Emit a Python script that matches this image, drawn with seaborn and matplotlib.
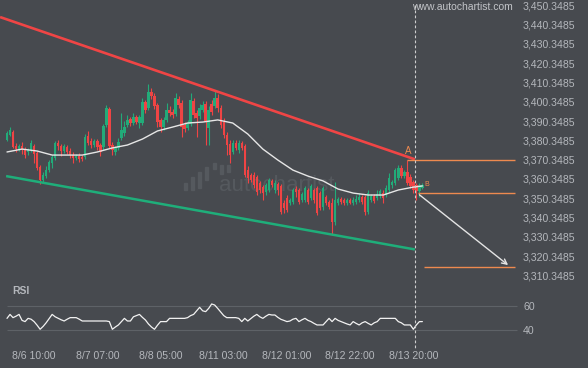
import numpy as np
import pandas as pd
import seaborn as sns
import matplotlib.pyplot as plt
from matplotlib import transforms
from matplotlib.patches import Rectangle

# ---- data: hourly candles 8/6 - 8/13 ----
opens = [
    3380.5, 3383.1, 3384.6, 3377.4, 3375.3, 3377.4, 3375.8, 3374.3, 3375.3, 3377.4,
    3373.8, 3366.5, 3359.8, 3361.8, 3364.9, 3368.6, 3371.2, 3378.9, 3377.4, 3374.8,
    3376.9, 3374.8, 3372.7, 3371.2, 3372.2, 3371.7, 3371.7, 3382.6, 3380.0, 3377.9,
    3380.0, 3377.9, 3376.9, 3388.3, 3396.6, 3377.9, 3374.3, 3376.4, 3381.5, 3384.1,
    3388.3, 3391.4, 3389.3, 3392.4, 3389.3, 3389.3, 3400.2, 3397.1, 3405.4, 3403.3,
    3398.6, 3390.9, 3387.2, 3390.9, 3396.0, 3395.0, 3394.0, 3401.7, 3399.7, 3388.3,
    3386.7, 3388.8, 3400.7, 3394.5, 3392.9, 3396.0, 3399.2, 3386.7, 3399.2, 3398.1,
    3402.3, 3397.1, 3389.8, 3383.1, 3378.4, 3374.3, 3378.9, 3375.3, 3378.9, 3377.4,
    3364.9, 3362.4, 3362.4, 3361.3, 3358.2, 3356.1, 3353.6, 3354.6, 3359.3, 3354.6,
    3357.7, 3356.7, 3347.8, 3350.4, 3347.8, 3348.4, 3355.1, 3354.6, 3349.4, 3349.4,
    3354.6, 3350.4, 3354.6, 3355.6, 3353.0, 3345.8, 3351.0, 3348.4, 3347.8, 3338.0,
    3347.8, 3349.9, 3349.4, 3347.8, 3349.4, 3347.8, 3348.4, 3349.4, 3351.0, 3351.0,
    3343.2, 3349.4, 3351.5, 3350.4, 3351.5, 3353.0, 3352.0, 3354.6, 3357.2, 3358.2,
    3360.8, 3366.0, 3361.8, 3363.9, 3361.3, 3358.7, 3357.2, 3354.1, 3355.6,
]
closes = [
    3384.1, 3385.7, 3376.9, 3375.8, 3377.4, 3375.3, 3372.7, 3375.3, 3378.9, 3373.2,
    3366.0, 3359.8, 3362.4, 3364.9, 3369.1, 3371.7, 3378.9, 3377.4, 3374.8, 3377.4,
    3374.3, 3372.7, 3371.2, 3372.2, 3370.6, 3370.6, 3382.0, 3378.9, 3377.9, 3380.0,
    3376.9, 3374.3, 3387.8, 3397.1, 3377.4, 3375.3, 3376.9, 3379.5, 3385.7, 3387.2,
    3390.9, 3389.3, 3392.4, 3389.8, 3392.4, 3400.2, 3396.0, 3405.4, 3403.3, 3398.1,
    3389.8, 3387.2, 3390.9, 3396.0, 3394.5, 3393.5, 3402.3, 3398.6, 3387.2, 3386.2,
    3389.3, 3401.2, 3393.5, 3391.9, 3397.1, 3398.6, 3389.8, 3396.0, 3395.0, 3402.3,
    3397.1, 3388.3, 3383.1, 3377.9, 3372.7, 3378.9, 3376.4, 3378.9, 3376.4, 3362.4,
    3360.8, 3359.8, 3357.2, 3353.6, 3354.6, 3353.0, 3357.2, 3359.8, 3357.2, 3358.2,
    3354.6, 3343.2, 3345.3, 3344.2, 3349.4, 3354.6, 3353.6, 3348.4, 3352.5, 3355.6,
    3348.4, 3356.7, 3349.4, 3342.7, 3345.3, 3355.6, 3347.8, 3345.8, 3338.0, 3349.4,
    3349.9, 3348.4, 3347.8, 3349.4, 3347.8, 3349.4, 3349.9, 3351.0, 3348.4, 3343.2,
    3353.0, 3351.5, 3348.9, 3352.5, 3354.1, 3350.4, 3355.6, 3360.8, 3358.7, 3364.9,
    3366.0, 3361.8, 3363.9, 3358.2, 3356.7, 3354.6, 3354.1, 3357.2, 3357.2,
]
highs = [
    3385.2, 3387.2, 3385.7, 3378.9, 3378.4, 3379.5, 3376.9, 3376.4, 3380.5, 3378.4,
    3374.8, 3367.5, 3363.9, 3367.0, 3370.1, 3372.7, 3380.0, 3380.5, 3378.4, 3378.4,
    3377.9, 3376.4, 3374.3, 3373.2, 3373.8, 3372.7, 3383.6, 3385.2, 3381.5, 3381.0,
    3381.0, 3378.9, 3388.8, 3398.6, 3397.6, 3379.5, 3377.4, 3381.5, 3394.5, 3390.3,
    3393.5, 3392.4, 3394.5, 3393.5, 3393.5, 3402.3, 3401.2, 3409.5, 3407.4, 3404.8,
    3399.7, 3391.9, 3392.4, 3399.7, 3398.1, 3396.6, 3404.8, 3403.3, 3401.2, 3389.8,
    3390.9, 3404.8, 3402.3, 3396.0, 3399.2, 3400.7, 3400.7, 3398.1, 3401.2, 3406.4,
    3404.3, 3398.6, 3391.9, 3384.6, 3380.5, 3380.5, 3380.5, 3380.5, 3380.0, 3378.4,
    3367.0, 3363.4, 3363.9, 3362.4, 3359.3, 3357.2, 3358.2, 3360.8, 3360.3, 3359.8,
    3358.7, 3357.7, 3349.4, 3352.0, 3350.4, 3355.6, 3356.7, 3355.6, 3353.6, 3356.7,
    3355.6, 3357.7, 3355.6, 3356.7, 3354.1, 3356.7, 3352.0, 3349.4, 3350.4, 3358.7,
    3351.0, 3351.0, 3350.4, 3350.4, 3350.4, 3351.0, 3352.0, 3353.0, 3352.0, 3352.0,
    3354.6, 3352.5, 3352.5, 3354.6, 3355.1, 3354.6, 3357.2, 3363.4, 3359.8, 3366.0,
    3367.5, 3367.5, 3364.9, 3370.1, 3362.9, 3359.8, 3358.2, 3358.2, 3358.2,
]
lows = [
    3380.0, 3382.6, 3376.4, 3374.3, 3374.8, 3373.2, 3371.2, 3372.7, 3374.3, 3368.6,
    3364.9, 3357.7, 3358.2, 3360.8, 3363.9, 3366.0, 3370.1, 3375.3, 3372.2, 3373.8,
    3373.2, 3371.2, 3368.6, 3370.1, 3369.1, 3369.6, 3370.6, 3377.9, 3376.4, 3376.9,
    3375.3, 3372.2, 3375.3, 3387.2, 3376.4, 3372.7, 3372.7, 3375.3, 3380.5, 3382.6,
    3387.2, 3387.8, 3388.3, 3388.8, 3386.7, 3388.3, 3394.5, 3396.0, 3401.7, 3396.6,
    3387.2, 3384.6, 3385.7, 3389.8, 3392.9, 3391.9, 3392.9, 3397.1, 3382.0, 3384.6,
    3385.7, 3387.8, 3391.9, 3382.0, 3391.4, 3395.0, 3377.9, 3377.9, 3393.5, 3397.1,
    3395.0, 3386.7, 3381.5, 3372.7, 3368.6, 3373.2, 3375.3, 3373.8, 3375.3, 3361.3,
    3358.2, 3358.7, 3355.6, 3352.0, 3353.0, 3349.4, 3352.0, 3353.6, 3356.1, 3353.0,
    3352.0, 3342.1, 3342.7, 3343.2, 3346.8, 3347.3, 3351.0, 3347.3, 3348.4, 3348.4,
    3347.3, 3349.4, 3347.8, 3341.6, 3344.2, 3344.2, 3346.8, 3344.7, 3331.3, 3336.5,
    3346.8, 3347.3, 3346.8, 3346.8, 3347.3, 3346.8, 3347.3, 3348.4, 3347.3, 3341.6,
    3342.1, 3348.4, 3347.8, 3349.4, 3350.4, 3347.8, 3351.0, 3353.6, 3355.6, 3357.2,
    3359.8, 3360.8, 3360.8, 3357.2, 3355.6, 3353.0, 3349.4, 3351.0, 3355.1,
]

# moving average, read every 5th bar (plus the last one)
ma_bars = list(range(0, 139, 5)) + [138]
ma_values = [
    3374.3, 3375.8, 3374.8, 3372.7, 3372.7, 3372.7, 3374.3, 3376.4, 3377.9, 3381.0,
    3385.2, 3387.2, 3389.3, 3389.8, 3390.9, 3389.3, 3383.6, 3375.8, 3370.1, 3364.9,
    3361.8, 3359.3, 3355.1, 3353.0, 3352.0, 3352.0, 3354.6, 3356.1, 3356.7,
]

rsi_values = [
    49.7, 53, 50.3, 51.5, 53, 48, 47, 49.7, 49, 47,
    44, 40.6, 43, 46, 49.5, 53, 51, 49.7, 48.5, 47.5,
    49, 50.3, 50.3, 50.3, 49, 47.5, 47.5, 47.5, 47.5, 47.5,
    47.5, 47.5, 47.5, 47.5, 47, 40.6, 42.5, 44.2, 47, 49.7,
    47.5, 47.5, 51, 52, 53, 50.5, 48.3, 45, 42.5, 40.6,
    44, 47, 47, 47, 49.7, 49.7, 49.7, 49.7, 49.7, 49.7,
    50.3, 52, 53, 56, 58.9, 56, 55.3, 58, 61.7, 60.8,
    58, 55, 52, 50.3, 50.3, 50.3, 50.3, 49.7, 47, 49.7,
    47.5, 49.5, 51.5, 53, 51, 49.7, 51.5, 53, 52.5, 52.5,
    50.5, 48.9, 48, 47, 47.5, 49, 49.7, 47, 48.5, 49.7,
    48, 47, 45.5, 44.2, 44.2, 44.2, 47, 49.7, 47, 49.7,
    48, 47, 46, 45, 44.2, 47, 45.5, 44.2, 46, 47,
    45.5, 44.2, 46, 47, 49.7, 49.7, 49.7, 49.7, 49.7, 49.7,
    47, 46, 44.2, 44.2, 44.2, 40.6, 44.2, 47, 47,
]

time_labels = ["8/6 10:00", "8/7 07:00", "8/8 05:00", "8/11 03:00",
               "8/12 01:00", "8/12 22:00", "8/13 20:00"]
label_bars = [9, 30, 51, 72, 93, 114, 135]
price_ticks = [3310.3485, 3320.3485, 3330.3485, 3340.3485, 3350.3485,
               3360.3485, 3370.3485, 3380.3485, 3390.3485, 3400.3485,
               3410.3485, 3420.3485, 3430.3485, 3440.3485, 3450.3485]

# pattern (descending channel) and forecast levels
resist_bars, resist_prices = [-2.3, 135.5], [3444.2, 3370.5]
support_bars, support_prices = [-0.3, 135.5], [3361.8, 3323.8]
level_top, level_mid, level_target = 3370.35, 3353.0, 3314.8
now_bar = 135.4
a_bar = 133

BG = "#474a4f"
TXT = "#b4b7bc"
UP, DOWN = "#22ab79", "#ef4444"
ORANGE = "#ee8a4f"

sns.set_style("dark", {"axes.facecolor": BG, "figure.facecolor": BG,
                       "axes.edgecolor": BG, "axes.grid": False})
plt.rcParams["font.family"] = ["Liberation Sans", "DejaVu Sans"]

df = pd.DataFrame({"open": opens, "high": highs, "low": lows, "close": closes})
df["bar"] = np.arange(len(df))
df["up"] = df["close"] >= df["open"]

fig = plt.figure(figsize=(5.88, 3.68), dpi=100)
ax = fig.add_axes([0, 1 - 285 / 368, 518 / 588, 285 / 368])
ax2 = fig.add_axes([0, 1 - 345 / 368, 518 / 588, 60 / 368])
xlim = (-7 / 3.01, 511 / 3.01)

# watermark
ax.text(0.535, 0.35, "autochartist", transform=ax.transAxes, fontsize=16,
        color="#55595e", ha="center", va="center", zorder=0)
for bx, by, bh in [(184, 183, 7), (191, 177, 13), (198, 172, 16), (205, 167, 13),
                   (213, 163, 6), (220, 165, 9), (227, 165, 7)]:
    fig.patches.append(Rectangle((bx / 588, 1 - (by + bh) / 368), 3 / 588, bh / 368,
                                 transform=fig.transFigure, color="#55595e", zorder=0))

# candles
colors = np.where(df["up"], UP, DOWN)
ax.vlines(df["bar"], df["low"], df["high"], colors=colors, lw=0.8, zorder=2)
body = (df["close"] - df["open"]).abs().clip(lower=0.35)
ax.bar(df["bar"], body, bottom=df[["open", "close"]].min(axis=1), width=0.8,
       color=colors, edgecolor=colors, linewidth=0, zorder=3)

# moving average
sns.lineplot(x=ma_bars, y=ma_values, ax=ax, color="#e6e6e6", lw=1.0, zorder=4)

# channel lines
ax.plot(resist_bars, resist_prices, color="#f04545", lw=1.9, zorder=5,
        solid_capstyle="butt")
ax.plot(support_bars, support_prices, color="#1fae7a", lw=1.8, zorder=5,
        solid_capstyle="butt")

# forecast levels
ax.hlines(level_top, a_bar, 168.8, color=ORANGE, lw=1.0, zorder=5)
ax.hlines(level_mid, 136.5, 168.8, color=ORANGE, lw=1.0, zorder=5)
ax.hlines(level_target, 138.5, 168.8, color=ORANGE, lw=1.0, zorder=5)
ax.annotate("", xy=(167.2, level_target), xytext=(136.3, level_mid),
            arrowprops=dict(arrowstyle="->", color="#e4e4e4", lw=1.0,
                            mutation_scale=9), zorder=6)
ax.text(a_bar + 0.3, 3374.6, "A", color=ORANGE, fontsize=7, ha="center",
        va="center")
ax.text(139.6, 3357.6, "B", color=ORANGE, fontsize=5, ha="center", va="center")

ax.set_xlim(xlim)
ax.set_ylim(3305.38, 3453.04)
ax.yaxis.tick_right()
ax.set_yticks(price_ticks)
ax.set_yticklabels([f"{v:,.4f}" for v in price_ticks])
ax.tick_params(axis="y", length=0, pad=3.6, labelsize=7.6, labelcolor=TXT)
ax.set_xticks([])
ax.set_xlabel("")
ax.set_ylabel("")
for s in ax.spines.values():
    s.set_visible(False)

# RSI panel
ax2.hlines([40, 60], 0, 169.4, color="#5e6267", lw=0.8, zorder=1)
sns.lineplot(x=df["bar"], y=rsi_values, ax=ax2, color="#f2f2f2", lw=0.9, zorder=3)
ax2.text(0.024, 0.9, "RSI", transform=ax2.transAxes, color=TXT, fontsize=7.5,
         fontweight="bold", ha="left", va="center")
ax2.set_xlim(xlim)
ax2.set_ylim(27.5, 77.5)
ax2.yaxis.tick_right()
ax2.set_yticks([40, 60])
ax2.set_yticklabels(["40", "60"])
ax2.set_xticks(label_bars)
ax2.set_xticklabels(time_labels)
ax2.tick_params(axis="y", length=0, pad=3.6, labelsize=7.6, labelcolor=TXT)
ax2.tick_params(axis="x", length=0, pad=4.5, labelsize=7.6, labelcolor=TXT)
ax2.set_xlabel("")
ax2.set_ylabel("")
for s in ax2.spines.values():
    s.set_visible(False)

# "now" dashed line across both panels
trans = transforms.blended_transform_factory(ax.transData, fig.transFigure)
fig.add_artist(plt.Line2D([now_bar, now_bar], [1 - 5 / 368, 1 - 349 / 368],
                          transform=trans, color="#cfcfcf", lw=0.8,
                          linestyle=(0, (2.5, 2)), zorder=10))

fig.text(513 / 588, 1 - 7 / 368, "www.autochartist.com", color="#c2c4c8",
         fontsize=7.5, ha="right", va="center")

fig.savefig("out.png", dpi=100, facecolor=BG)
